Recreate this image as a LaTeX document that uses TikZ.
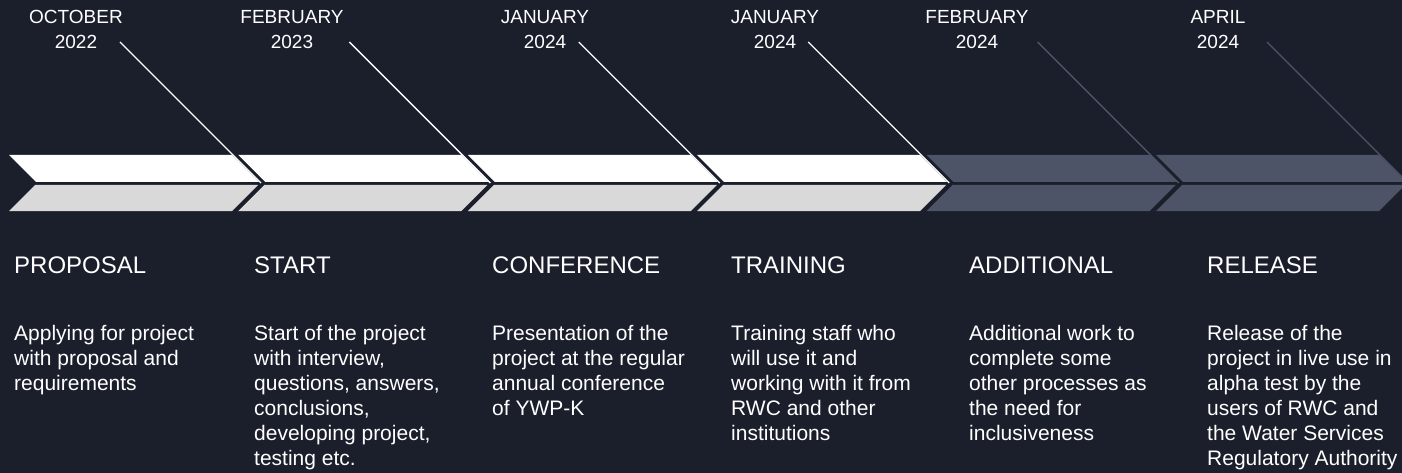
\documentclass[tikz,border=0pt]{standalone}
\usepackage{fontspec}
\setmainfont{Liberation Sans}
\definecolor{bgc}{HTML}{1B1F2C}
\definecolor{slate}{HTML}{4E5468}
\definecolor{lightg}{HTML}{D9D9D9}
\tikzset{
  datelbl/.style={anchor=base, align=center, inner sep=0pt, text=white, font=\fontsize{19}{25}\selectfont},
  headlbl/.style={anchor=base west, inner sep=0pt, text=white, font=\fontsize{24}{28}\selectfont},
  desclbl/.style={anchor=base west, align=left, inner sep=0pt, text=white, font=\fontsize{21}{25}\selectfont},
  leadline/.style={line width=1.3pt},
}
\begin{document}
\begin{tikzpicture}[x=1pt,y=-1pt]
\fill[bgc] (0,0) rectangle (1402,473);
\useasboundingbox (0,0) rectangle (1402,473);
\clip (0,0) rectangle (1402,473);
% lead lines (under chevrons)
\foreach \i/\c in {0/white,1/white,2/white,3/white,4/slate,5/slate}{
  \pgfmathsetmacro{\xo}{9+229.4*\i}
  \coordinate (p\i) at (\xo+252,183);
  \coordinate (s\i) at (\xo+111,42);
  \draw[leadline,draw=\c] (s\i) -- (p\i);
}
% chevrons
\foreach \i/\ct/\cb in {0/white/lightg,1/white/lightg,2/white/lightg,3/white/lightg,4/slate/slate,5/slate/slate}{
  \pgfmathsetmacro{\xo}{9+229.4*\i}
  \fill[\ct] (\xo,155) -- (\xo+223,155) -- (\xo+250,182) -- (\xo+27,182) -- cycle;
  \fill[\cb] (\xo+26,185) -- (\xo+249,185) -- (\xo+223,211) -- (\xo,211) -- cycle;
}
% dates (anchor = baseline of last line)
\node[datelbl] (d0) at (76,49) {OCTOBER\\2022};
\node[datelbl] (d1) at (292,49) {FEBRUARY\\2023};
\node[datelbl] (d2) at (545,49) {JANUARY\\2024};
\node[datelbl] (d3) at (775,49) {JANUARY\\2024};
\node[datelbl] (d4) at (977,49) {FEBRUARY\\2024};
\node[datelbl] (d5) at (1218,49) {APRIL\\2024};
% headers
\node[headlbl] (h0) at (14,273) {PROPOSAL};
\node[headlbl] (h1) at (254,273) {START};
\node[headlbl] (h2) at (492,273) {CONFERENCE};
\node[headlbl] (h3) at (731,273) {TRAINING};
\node[headlbl] (h4) at (969,273) {ADDITIONAL};
\node[headlbl] (h5) at (1207,273) {RELEASE};
% descriptions (anchor = baseline of last line; first baseline at 340, pitch 25)
\node[desclbl] (t0) at (14,390) {Applying for project\\with proposal and\\requirements};
\node[desclbl] (t1) at (254,465) {Start of the project\\with interview,\\questions, answers,\\conclusions,\\developing project,\\testing etc.};
\node[desclbl] (t2) at (492,415) {Presentation of the\\project at the regular\\annual conference\\of YWP-K};
\node[desclbl] (t3) at (731,440) {Training staff who\\will use it and\\working with it from\\RWC and other\\institutions};
\node[desclbl] (t4) at (969,440) {Additional work to\\complete some\\other processes as\\the need for\\inclusiveness};
\node[desclbl] (t5) at (1207,465) {Release of the\\project in live use in\\alpha test by the\\users of RWC and\\the Water Services\\Regulatory Authority};
\end{tikzpicture}
\end{document}
